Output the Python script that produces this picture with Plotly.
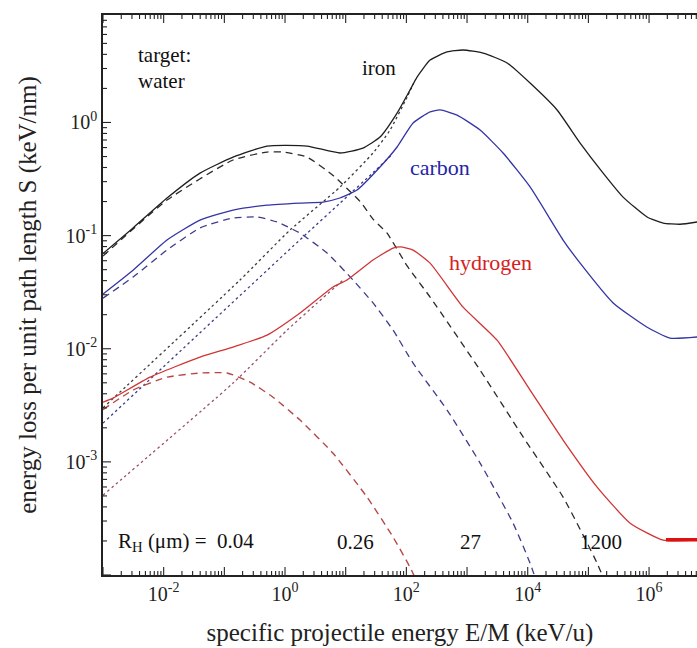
import math
import plotly.graph_objects as go

# ---------------- data ----------------
# iron projectile
fe_total_x = [0.001, 0.00313, 0.01135, 0.0397, 0.139, 0.506, 2.31, 8.07, 19.3, 36.8, 70.3, 115, 150, 246, 469, 861,
              1837, 4571, 10940, 30480, 73110, 175000, 373000, 929000, 1.706e6, 3.25e6, 6.19e6]
fe_total_y = [0.0695, 0.117, 0.215, 0.357, 0.494, 0.619, 0.619, 0.537, 0.594, 0.743, 1.21, 1.94, 2.52, 3.56, 4.20, 4.37,
              4.11, 3.36, 2.23, 1.29, 0.658, 0.357, 0.219, 0.146, 0.129, 0.126, 0.132]
fe_nuc_x = [0.001, 0.01135, 0.139, 0.506, 0.927, 2.31, 6.19, 17.3, 28.2, 48.1, 103, 246, 1641, 8395, 38280, 139300, 250000]
fe_nuc_y = [0.066, 0.206, 0.466, 0.548, 0.548, 0.494, 0.34, 0.20, 0.14, 0.105, 0.054, 0.0286, 0.00647, 0.00166, 0.000488,
            0.000127, 0.00006]
fe_elec_x = [0.001, 0.181, 1.21, 8.07, 28.2, 53.8, 103, 130]
fe_elec_y = [0.0030, 0.0405, 0.112, 0.269, 0.537, 0.857, 1.68, 2.2]

# carbon projectile
c_total_x = [0.001, 0.00313, 0.01135, 0.0397, 0.139, 0.506, 1.77, 4.24, 8.0, 15.4, 36.8, 70.3, 129, 246, 360, 686, 1641,
             3926, 10940, 38280, 73110, 255900, 929000, 2.22e6, 6.19e6]
c_total_y = [0.0305, 0.0495, 0.0914, 0.137, 0.168, 0.186, 0.194, 0.198, 0.215, 0.253, 0.404, 0.607, 0.989, 1.24, 1.29,
             1.16, 0.857, 0.537, 0.269, 0.0914, 0.0571, 0.0254, 0.0155, 0.0124, 0.0127]
c_nuc_x = [0.001, 0.00313, 0.01135, 0.0397, 0.139, 0.346, 0.738, 1.77, 4.93, 13.2, 28.2, 60.4, 129, 469, 1641, 5741,
           10940, 20000]
c_nuc_y = [0.028, 0.0430, 0.0745, 0.117, 0.143, 0.146, 0.132, 0.105, 0.0702, 0.0405, 0.0254, 0.0146, 0.00746, 0.00287,
           0.000975, 0.000287, 0.000127, 0.00005]
c_elec_x = [0.001, 2.31, 8.07, 28.2, 60]
c_elec_y = [0.0022, 0.105, 0.194, 0.36, 0.53]

# hydrogen projectile
h_total_x = [0.001, 0.00146, 0.00596, 0.0397, 0.139, 0.506, 1.77, 6.19, 10.5, 28.2, 60.4, 80, 129, 246, 861, 3126,
             10940, 38280, 139300, 487500, 1.706e6, 6.19e6]
h_total_y = [0.00337, 0.00366, 0.00561, 0.00843, 0.01035, 0.0132, 0.0207, 0.0351, 0.0405, 0.0608, 0.0776, 0.0795,
             0.0745, 0.0571, 0.0233, 0.0119, 0.00431, 0.00156, 0.000598, 0.000287, 0.000203, 0.000203]
h_nuc_x = [0.001, 0.00313, 0.01135, 0.0397, 0.111, 0.265, 0.634, 1.77, 6.19, 22.5, 60.4, 115, 160]
h_nuc_y = [0.0029, 0.00431, 0.00561, 0.0061, 0.0061, 0.00507, 0.00373, 0.00234, 0.00119, 0.000488, 0.000216,
           0.000117, 0.00008]
h_elec_x = [0.001, 0.139, 1.08, 3.37, 9.06]
h_elec_y = [0.000508, 0.00497, 0.0146, 0.0253, 0.0405]
h_meas_x = [1.9e6, 6.19e6]
h_meas_y = [0.000205, 0.000205]

# labels
x_major_exp = [-3, -2, -1, 0, 1, 2, 3, 4, 5, 6]
x_labelled = [-2, 0, 2, 4, 6]
y_major_exp = [-4, -3, -2, -1, 0]
y_labelled = [-3, -2, -1, 0]
range_labels = ["R<sub>H</sub> (\u03bcm) =  0.04", "0.26", "27", "1200"]

FONT = "Liberation Serif, Times New Roman, serif"
BLACK = "#1e1e1e"
BLUE = "#3434a6"
RED = "#d03434"
AX = "#222222"
XR = [-3, 6.79]
YR = [-4, 0.95]

fig = go.Figure()


def add(x, y, color, dash="solid", width=1.3):
    fig.add_trace(go.Scatter(x=x, y=y, mode="lines", showlegend=False, hoverinfo="skip",
                             line=dict(color=color, width=width, dash=dash, shape="spline", smoothing=0.5)))


DASH = "7px,5px"
DOT = "2.5px,3px"
add(fe_elec_x, fe_elec_y, "#3a3a3a", DOT, 1.3)
add(c_elec_x, c_elec_y, "#3a3a88", DOT, 1.3)
add(h_elec_x, h_elec_y, "#9a5068", DOT, 1.3)
add(fe_nuc_x, fe_nuc_y, "#2a2a2a", DASH, 1.3)
add(c_nuc_x, c_nuc_y, "#3c3c8c", DASH, 1.3)
add(h_nuc_x, h_nuc_y, "#b84848", DASH, 1.4)
add(fe_total_x, fe_total_y, BLACK, "solid", 1.3)
add(c_total_x, c_total_y, BLUE, "solid", 1.3)
add(h_total_x, h_total_y, RED, "solid", 1.3)
fig.add_trace(go.Scatter(x=h_meas_x, y=h_meas_y, mode="lines", showlegend=False, hoverinfo="skip",
                         line=dict(color="#e01010", width=3.5)))

# tick values
x_tickvals = [10.0 ** e for e in x_major_exp]
x_ticktext = [("10<sup>%d</sup>" % e) if e in x_labelled else " " for e in x_major_exp]
y_tickvals = [10.0 ** e for e in y_major_exp]
y_ticktext = [("10<sup>%d</sup>" % e) if e in y_labelled else " " for e in y_major_exp]
x_minor = [m * 10.0 ** e for e in range(-3, 7) for m in range(2, 10)]
y_minor = [m * 10.0 ** e for e in range(-4, 1) for m in range(2, 10)]

fig.update_layout(
    width=697, height=648,
    margin=dict(l=103, r=0, t=15, b=73),
    paper_bgcolor="white", plot_bgcolor="white",
    xaxis=dict(type="log", range=XR, showgrid=False,
               showline=True, linecolor=AX, linewidth=1.5, mirror=True,
               ticks="", tickmode="array", tickvals=x_tickvals, ticktext=x_ticktext,
               tickfont=dict(family=FONT, size=20, color=AX),
               title=dict(text="specific projectile energy E/M (keV/u)", font=dict(family=FONT, size=25, color=AX),
                          standoff=20)),
    yaxis=dict(type="log", range=YR, showgrid=False,
               showline=True, linecolor=AX, linewidth=1.5, mirror=False,
               ticks="", tickmode="array", tickvals=y_tickvals, ticktext=y_ticktext,
               tickfont=dict(family=FONT, size=20, color=AX),
               title=dict(text="energy loss per unit path length S (keV/nm)",
                          font=dict(family=FONT, size=25, color=AX), standoff=22)),
)

# inward tick marks placed through the axes' own (log) scales, lengths in pixels
for vals, ln in ((x_tickvals, 8), (x_minor, 4)):
    for v in vals:
        if XR[0] <= math.log10(v) <= XR[1]:
            for anchor, sgn in ((0, 1), (1, -1)):
                fig.add_shape(type="line", xref="x", yref="paper", x0=v, x1=v,
                              ysizemode="pixel", yanchor=anchor, y0=0, y1=sgn * ln,
                              line=dict(color=AX, width=1.1), layer="above")
for vals, ln in ((y_tickvals, 8), (y_minor, 4)):
    for v in vals:
        if YR[0] <= math.log10(v) <= YR[1]:
            fig.add_shape(type="line", xref="paper", yref="y", y0=v, y1=v,
                          xsizemode="pixel", xanchor=0, x0=0, x1=ln,
                          line=dict(color=AX, width=1.1), layer="above")


def label(text, px, py, color="#111", anchor="left", size=21):
    fig.add_annotation(text=text, x=(px - 103) / 594.0, y=(575 - py) / 560.0, xref="paper", yref="paper",
                       xanchor=anchor, yanchor="middle", showarrow=False,
                       font=dict(family=FONT, size=size, color=color))


label("target:", 136, 55)
label("water", 136, 81)
label("iron", 360, 68)
label("carbon", 408, 167, color="#2424a8", size=22)
label("hydrogen", 447, 262, color="#d42222", size=22)
label(range_labels[0], 116, 542, size=21)
label(range_labels[1], 355, 542, anchor="center", size=21)
label(range_labels[2], 470, 542, anchor="center", size=21)
label(range_labels[3], 601, 542, anchor="center", size=21)

fig.write_html("out.html")
